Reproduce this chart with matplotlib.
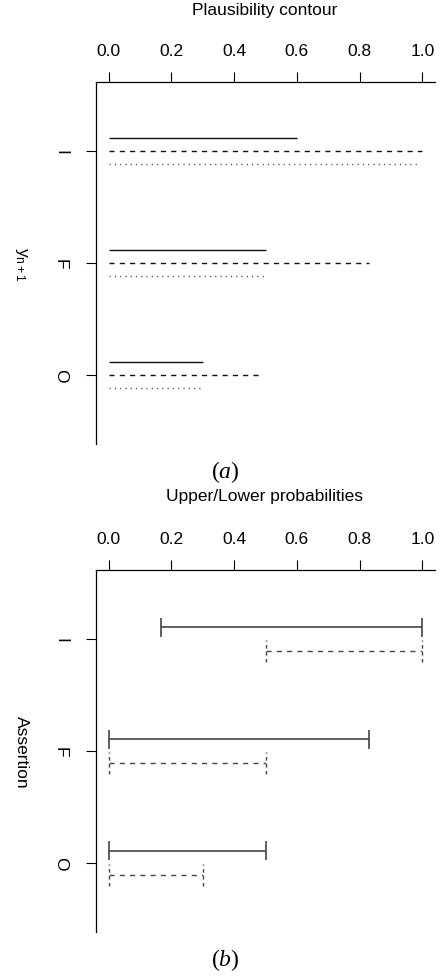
import numpy as np
import matplotlib
matplotlib.use("Agg")
import matplotlib.pyplot as plt

plt.rcParams['font.family'] = ['Liberation Sans', 'DejaVu Sans']
plt.rcParams['lines.scale_dashes'] = False
plt.rcParams['mathtext.fontset'] = 'custom'
plt.rcParams['mathtext.rm'] = 'Liberation Serif'
plt.rcParams['mathtext.it'] = 'Liberation Serif:italic'

# data
categories = ['O', 'F', 'I']
x_ticks = [0.0, 0.2, 0.4, 0.6, 0.8, 1.0]

# panel (a): plausibility contour, three series per category
pl_solid = [0.30, 0.50, 0.60]
pl_dashed = [0.49, 0.83, 1.00]
pl_dotted = [0.30, 0.50, 0.99]

# panel (b): upper/lower probability intervals
solid_lo = [0.0, 0.0, 0.167]
solid_hi = [0.50, 0.83, 1.00]
dashed_lo = [0.0, 0.0, 0.50]
dashed_hi = [0.30, 0.50, 1.00]

W, H = 441, 979
fig = plt.figure(figsize=(W / 100, H / 100), dpi=100)

DASH = (0, (3.7, 3.7))
DOT = (0, (0.9, 2.9))


def make_axes(top_px, bottom_px, ylabel, title, title_y, tag, tag_y):
    left_px, right_px = 96, 435
    ax = fig.add_axes([left_px / W, 1 - bottom_px / H,
                       (right_px - left_px) / W, (bottom_px - top_px) / H])
    ax.set_xlim(-0.04, 1.04)
    ax.set_ylim(0.5 - 0.12, 3.5 + 0.12)
    ax.spines['right'].set_visible(False)
    ax.spines['bottom'].set_visible(False)
    ax.xaxis.tick_top()
    ax.set_xticks(x_ticks)
    ax.set_xticklabels(['%.1f' % v for v in x_ticks])
    ax.set_yticks([1, 2, 3])
    ax.set_yticklabels(categories, rotation=-90, va='center')
    ax.tick_params(axis='x', length=7.2, width=0.8, pad=10, labelsize=12.5)
    ax.tick_params(axis='y', length=7.2, width=0.8, pad=13, labelsize=12.5)
    for s in ax.spines.values():
        s.set_linewidth(0.9)
    fig.text(21 / W, 1 - (top_px + bottom_px) / 2 / H, ylabel, rotation=-90,
             ha='center', va='center', fontsize=12.5)
    fig.text(265 / W, 1 - title_y / H, title, ha='center', va='center', fontsize=12.5)
    fig.text(225 / W, 1 - tag_y / H, tag, ha='center', va='center', fontsize=17)
    return ax


y = np.arange(1, 4)

ax1 = make_axes(83, 445, r'$\mathregular{y_{n+1}}$', 'Plausibility contour', 11, r'$(a)$', 472)
off = 0.115
ax1.hlines(y + off, 0, pl_solid, colors='#111111', lw=1.0)
ax1.hlines(y, 0, pl_dashed, colors='#111111', lw=1.0, linestyles=[DASH])
ax1.hlines(y - off, 0, pl_dotted, colors='#555555', lw=1.0, linestyles=[DOT])

ax2 = make_axes(571, 933, 'Assertion', 'Upper/Lower probabilities', 497, r'$(b)$', 960)
off = 0.107
ax2.hlines(y + off, solid_lo, solid_hi, colors='#444444', lw=1.2)
for lo, hi, yy in zip(solid_lo, solid_hi, y + off):
    ax2.vlines([lo, hi], yy - 0.085, yy + 0.085, colors='#444444', lw=1.2)
ax2.hlines(y - off, dashed_lo, dashed_hi, colors='#444444', lw=1.0, linestyles=[DASH])
for lo, hi, yy in zip(dashed_lo, dashed_hi, y - off):
    ax2.vlines([lo, hi], yy - 0.1, yy + 0.1, colors='#444444', lw=1.0,
               linestyles=[(0, (2.5, 2.5))])

fig.savefig('out.png', dpi=100)
